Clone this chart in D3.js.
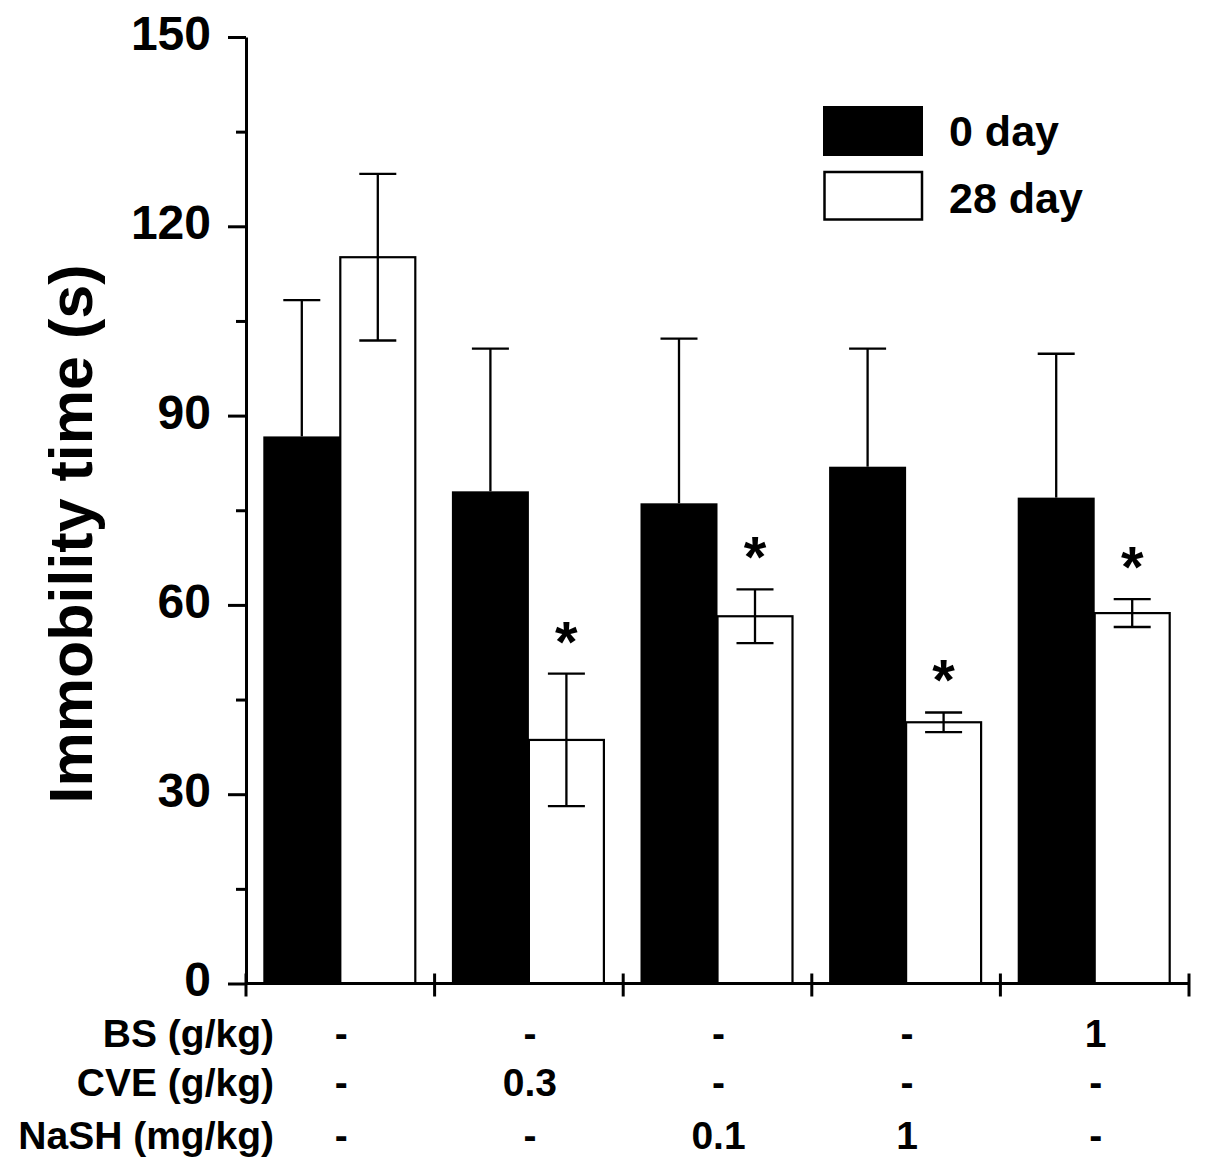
<!DOCTYPE html>
<html>
<head>
<meta charset="utf-8">
<script src="https://cdn.jsdelivr.net/npm/d3@7"></script>
<style>
  html, body { margin: 0; padding: 0; background: #fff; }
  svg { display: block; }
  text { font-family: "Liberation Sans", Arial, sans-serif; font-weight: bold; fill: #000; }
</style>
</head>
<body>
<svg id="chart" width="1205" height="1174"></svg>
<script>
// ---------- data ----------
const groups = ["Control", "CVE 0.3", "NaSH 0.1", "NaSH 1", "BS 1"];
const seriesNames = ["0 day", "28 day"];
const day0 = [86.7, 78.0, 76.1, 81.9, 77.0];
const day0Err = [21.6, 22.6, 26.1, 18.7, 22.8];
const day28 = [115.1, 38.6, 58.2, 41.4, 58.7];
const day28Err = [13.2, 10.5, 4.25, 1.55, 2.2];
const significant = [false, true, true, true, true];
const yTicks = [0, 30, 60, 90, 120, 150];
const yMinorTicks = [15, 45, 75, 105, 135];
const rowLabels = ["BS (g/kg)", "CVE (g/kg)", "NaSH (mg/kg)"];
const bsDose = ["-", "-", "-", "-", "1"];
const cveDose = ["-", "0.3", "-", "-", "-"];
const nashDose = ["-", "-", "0.1", "1", "-"];

// ---------- layout ----------
const svg = d3.select("#chart");
const x = d3.scaleBand().domain(groups).range([246, 1189]).paddingInner(0).paddingOuter(0);
const y = d3.scaleLinear().domain([0, 150]).range([983.5, 37]);
const bw = x.bandwidth();
const center = g => x(g) + bw / 2;
const barW = 77;
const capW = 37;

// ---------- bars ----------
const bars = svg.append("g");
groups.forEach((g, i) => {
  const c = center(g);
  // 0 day (black)
  bars.append("rect")
    .attr("x", c - barW).attr("y", y(day0[i]))
    .attr("width", barW).attr("height", y(0) - y(day0[i]))
    .attr("fill", "#000");
  const cx0 = c - barW / 2;
  bars.append("line").attr("x1", cx0).attr("x2", cx0)
    .attr("y1", y(day0[i])).attr("y2", y(day0[i] + day0Err[i]))
    .attr("stroke", "#000").attr("stroke-width", 2.3);
  bars.append("line").attr("x1", cx0 - capW / 2).attr("x2", cx0 + capW / 2)
    .attr("y1", y(day0[i] + day0Err[i])).attr("y2", y(day0[i] + day0Err[i]))
    .attr("stroke", "#000").attr("stroke-width", 2.3);

  // 28 day (white)
  bars.append("rect")
    .attr("x", c).attr("y", y(day28[i]))
    .attr("width", barW - 2).attr("height", y(0) - y(day28[i]))
    .attr("fill", "#fff").attr("stroke", "#000").attr("stroke-width", 2.2);
  const cx1 = c + (barW - 2) / 2;
  const top = day28[i] + day28Err[i], bot = day28[i] - day28Err[i];
  bars.append("line").attr("x1", cx1).attr("x2", cx1)
    .attr("y1", y(bot)).attr("y2", y(top))
    .attr("stroke", "#000").attr("stroke-width", 2.3);
  [top, bot].forEach(v => {
    bars.append("line").attr("x1", cx1 - capW / 2).attr("x2", cx1 + capW / 2)
      .attr("y1", y(v)).attr("y2", y(v))
      .attr("stroke", "#000").attr("stroke-width", 2.3);
  });
  if (significant[i]) {
    bars.append("text")
      .attr("x", cx1).attr("y", y(top) - 42 + 30)
      .attr("text-anchor", "middle")
      .attr("font-size", 58)
      .text("*");
  }
});

// ---------- y axis ----------
const yAxis = svg.append("g").attr("transform", "translate(246,0)")
  .call(d3.axisLeft(y).tickValues(yTicks).tickSize(18).tickSizeOuter(0).tickPadding(17).tickFormat(d => d));
yAxis.selectAll("text").attr("font-size", 48).attr("dy", "0.26em")
  .style("font-family", "'Liberation Sans', Arial, sans-serif").style("font-weight", "bold");
yAxis.selectAll("line").attr("stroke", "#000").attr("stroke-width", 3);
yAxis.select(".domain").attr("stroke", "#000").attr("stroke-width", 3);

const yMinor = svg.append("g").attr("transform", "translate(246,0)")
  .call(d3.axisLeft(y).tickValues(yMinorTicks).tickSize(10).tickSizeOuter(0).tickFormat(""));
yMinor.selectAll("line").attr("stroke", "#000").attr("stroke-width", 3);
yMinor.select(".domain").remove();

// ---------- x axis ----------
const xAxis = svg.append("g");
xAxis.append("line")
  .attr("x1", 246).attr("x2", 1189)
  .attr("y1", y(0)).attr("y2", y(0))
  .attr("stroke", "#000").attr("stroke-width", 3);
const boundaries = groups.map(g => x(g)).concat([x(groups[groups.length - 1]) + bw]);
xAxis.selectAll("line.tick").data(boundaries).enter().append("line")
  .attr("class", "tick")
  .attr("x1", d => d).attr("x2", d => d)
  .attr("y1", y(0) - 10).attr("y2", y(0) + 13)
  .attr("stroke", "#000").attr("stroke-width", 3);

// ---------- y label ----------
svg.append("text")
  .attr("transform", "translate(92,534) rotate(-90)")
  .attr("text-anchor", "middle")
  .attr("font-size", 61)
  .text("Immobility time (s)");

// ---------- legend ----------
const legend = svg.append("g");
legend.append("rect").attr("x", 823).attr("y", 106).attr("width", 100).attr("height", 50).attr("fill", "#000");
legend.append("rect").attr("x", 824.5).attr("y", 172).attr("width", 97.5).attr("height", 47.5)
  .attr("fill", "#fff").attr("stroke", "#000").attr("stroke-width", 2.5);
legend.append("text").attr("x", 949).attr("y", 146).attr("font-size", 43).text(seriesNames[0]);
legend.append("text").attr("x", 949).attr("y", 213).attr("font-size", 43).text(seriesNames[1]);

// ---------- dose table ----------
const rows = [bsDose, cveDose, nashDose];
const rowBase = [1047, 1096, 1149];
rows.forEach((vals, r) => {
  svg.append("text").attr("x", 274).attr("y", rowBase[r])
    .attr("text-anchor", "end").attr("font-size", 39).text(rowLabels[r]);
  groups.forEach((g, i) => {
    svg.append("text").attr("x", center(g) + 1).attr("y", rowBase[r])
      .attr("text-anchor", "middle").attr("font-size", 39).text(vals[i]);
  });
});
</script>
</body>
</html>
